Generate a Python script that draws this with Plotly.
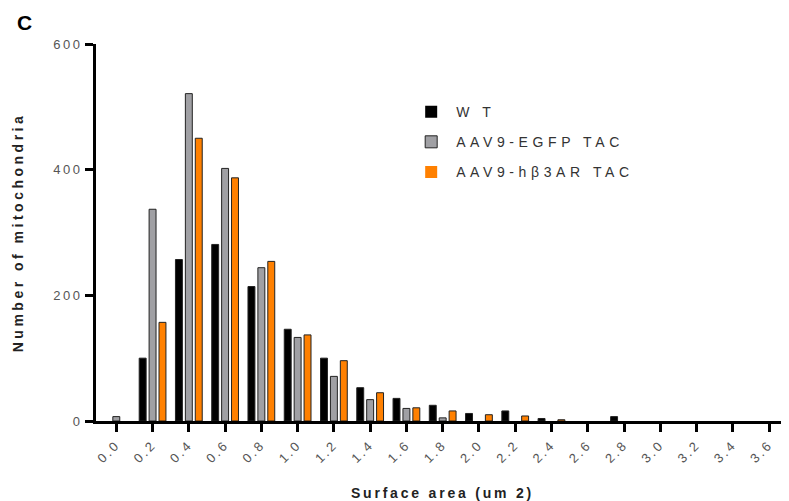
import plotly.graph_objects as go

bins = [0.0, 0.2, 0.4, 0.6, 0.8, 1.0, 1.2, 1.4, 1.6, 1.8, 2.0, 2.2, 2.4, 2.6, 2.8, 3.0, 3.2, 3.4, 3.6]
tick_labels = ["0.0", "0.2", "0.4", "0.6", "0.8", "1.0", "1.2", "1.4", "1.6", "1.8",
               "2.0", "2.2", "2.4", "2.6", "2.8", "3.0", "3.2", "3.4", "3.6"]
wt = [0, 100, 257, 281, 214, 146, 100, 53, 36, 25, 12, 16, 4, 0, 7, 0, 0, 0, 0]
egfp_tac = [7, 337, 521, 402, 244, 133, 71, 34, 20, 5, 0, 0, 0, 0, 0, 0, 0, 0, 0]
hb3ar_tac = [0, 157, 450, 387, 254, 137, 96, 45, 21, 16, 10, 8, 2, 0, 0, 0, 0, 0, 0]
y_ticks = [0, 200, 400, 600]
y_labels = ["0", "200", "400", "600"]

series_names = ["W T", "AAV9-EGFP TAC", "AAV9-hβ3AR TAC"]
series_vals = [wt, egfp_tac, hb3ar_tac]
colors = ["#000000", "#a0a0a4", "#ff8000"]

FONT = "Liberation Sans, Arial, sans-serif"

def spaced(t, px):
    return f'<span style="letter-spacing:{px}px">{t}</span>'

fig = go.Figure()
for i, (name, vals, col) in enumerate(zip(series_names, series_vals, colors)):
    fig.add_trace(go.Bar(
        x=bins, y=vals, name=spaced(name, 4.6),
        marker=dict(color=col,
                    line=dict(color="#222222", width=[1 if v > 0 else 0 for v in vals])),
        legendgroup=f"g{i}",
    ))

fig.update_layout(
    width=789, height=501,
    margin=dict(l=84, r=8, t=36, b=88),
    paper_bgcolor="white", plot_bgcolor="white",
    barmode="group", bargap=0.18, bargroupgap=0.3,
    font=dict(family=FONT, color="#222222"),
    legend=dict(
        x=0.4476, y=0.862, xanchor="left", yanchor="top",
        font=dict(family=FONT, size=14, color="#333333"),
        tracegroupgap=9, itemwidth=40, bgcolor="rgba(0,0,0,0)",
        traceorder="grouped",
    ),
    showlegend=True,
)

fig.update_xaxes(
    range=[-0.112, 3.71],
    tickvals=bins, ticktext=[spaced(t, 2.5) for t in tick_labels],
    tickangle=-45,
    tickfont=dict(family=FONT, size=13, color="#555555"),
    showline=True, linewidth=3, linecolor="black",
    ticks="outside", ticklen=8, tickwidth=3, tickcolor="black",
    showgrid=False, zeroline=False,
    title=dict(text=spaced("<b>Surface area (um 2)</b>", 2.8),
               font=dict(family=FONT, size=14, color="#222222"), standoff=24),
)
fig.update_yaxes(
    range=[0, 600],
    tickvals=y_ticks, ticktext=[spaced(t, 2.5) for t in y_labels],
    tickfont=dict(family=FONT, size=13, color="#555555"),
    showline=True, linewidth=3, linecolor="black",
    ticks="outside", ticklen=8, tickwidth=3, tickcolor="black",
    showgrid=False, zeroline=False,
    title=dict(text=spaced("<b>Number of mitochondria</b>", 3.5),
               font=dict(family=FONT, size=14, color="#222222"), standoff=27),
)

fig.add_annotation(
    text="<b>C</b>", xref="paper", yref="paper", x=-0.103, y=1.058,
    xanchor="center", yanchor="middle", showarrow=False,
    font=dict(family=FONT, size=21, color="black"),
)

fig.write_html("out.html")
